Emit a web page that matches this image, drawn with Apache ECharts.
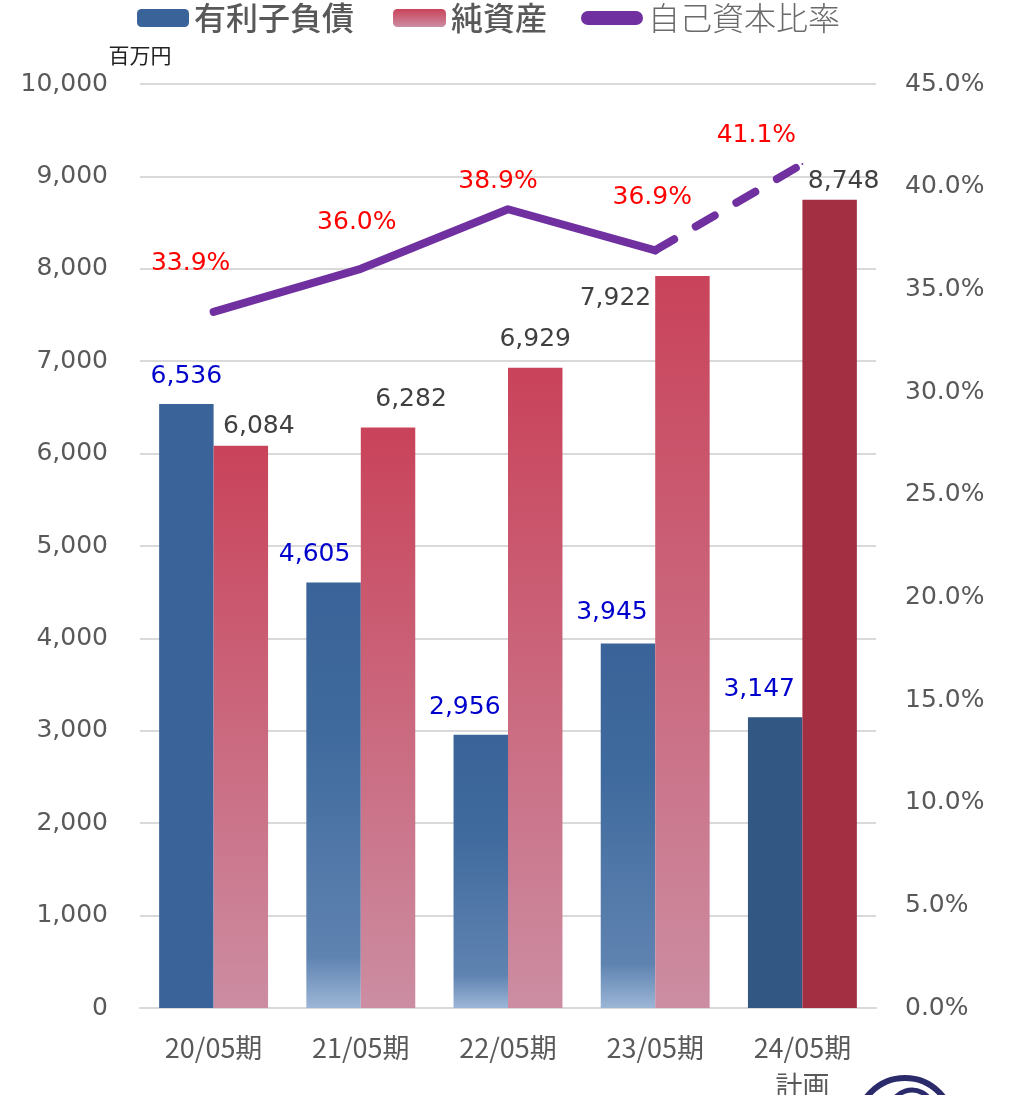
<!DOCTYPE html>
<html><head><meta charset="utf-8">
<script src="https://cdn.jsdelivr.net/npm/echarts@6/dist/echarts.min.js"></script>
<style>html,body{margin:0;padding:0;background:#fff;overflow:hidden}#c{width:1009px;height:1095px}</style>
</head><body><div id="c"></div>
<script>
const categories = ['20/05期', '21/05期', '22/05期', '23/05期', '24/05期\n計画'];
const debtValues = [6536, 4605, 2956, 3945, 3147];
const equityValues = [6084, 6282, 6929, 7922, 8748];
const ratioValues = [33.9, 36.0, 38.9, 36.9, 41.1];
const leftTicks = {min: 0, max: 10000, interval: 1000};
const rightTicks = {min: 0, max: 45, interval: 5};

const NUM_FONT = 'DejaVu Sans';
const CJK_FONT = 'Noto Sans CJK JP';

const blueGrad = new echarts.graphic.LinearGradient(0, 0, 0, 1, [
  {offset: 0, color: '#3A6499'}, {offset: 0.35, color: '#3F6A9D'},
  {offset: 0.88, color: '#5F83B1'}, {offset: 1, color: '#9CB6D6'}]);
const redGrad = new echarts.graphic.LinearGradient(0, 0, 0, 1, [
  {offset: 0, color: '#C9435A'}, {offset: 1, color: '#CC8DA2'}]);

// label offsets (style only)
const debtOff = [[0, -10], [-19, -10], [-16, -10], [-16, -13], [-16, -10]];
const eqOff = [[18, -2], [23, -11], [0, -11], [-67, 40], [14, -1]];
const ratioOff = [[-23, -30], [-4, -28], [-10, -9], [-3, -34], [-46, -10]];

const debtData = debtValues.map((v, i) => ({
  value: v,
  itemStyle: {color: i === 0 ? '#3A6499' : (i === 4 ? '#325782' : blueGrad)},
  label: {offset: debtOff[i]}
}));
const eqData = equityValues.map((v, i) => ({
  value: v,
  itemStyle: {color: i === 4 ? '#A22F42' : redGrad},
  label: {offset: eqOff[i], color: '#404040'}
}));
const solidLine = ratioValues.map((v, i) => i < 4 ? {value: v, label: {offset: ratioOff[i]}} : '-');
const dashLine = ratioValues.map((v, i) => i >= 3 ? {value: v, label: {show: i === 4, offset: ratioOff[i]}} : '-');

const chart = echarts.init(document.getElementById('c'));
const legendText = {fontFamily: CJK_FONT, fontSize: 32, color: '#595959'};
chart.setOption({
  animation: false,
  legend: [
    {data: [{name: '有利子負債', itemStyle: {color: '#3A6499'}}], left: 137, top: 2, itemWidth: 52, itemHeight: 18, textStyle: Object.assign({}, legendText, {fontWeight: 500}), padding: 0, selectedMode: false},
    {data: [{name: '純資産', itemStyle: {color: new echarts.graphic.LinearGradient(0, 0, 0, 1, [{offset: 0, color: '#C9435A'}, {offset: 1, color: '#CC8DA2'}])}}], left: 393, top: 2, itemWidth: 53, itemHeight: 18, textStyle: Object.assign({}, legendText, {fontWeight: 500}), padding: 0, selectedMode: false},
    {data: [{name: '自己資本比率', icon: 'path://M7,0 L55,0 A7,7 0 0 1 55,14 L7,14 A7,7 0 0 1 7,0 Z', itemStyle: {color: '#7030A0'}}], left: 581, top: 2, itemWidth: 62, itemHeight: 14, textStyle: Object.assign({}, legendText, {fontWeight: 300, color: '#6a6a6a'}), padding: 0, selectedMode: false}
  ],
  grid: {left: 140, right: 133, top: 84, bottom: 87, containLabel: false, outerBoundsMode: 'none'},
  xAxis: {
    type: 'category', data: categories,
    axisLine: {lineStyle: {color: '#D9D9D9', width: 2}},
    axisTick: {show: false},
    axisLabel: {fontFamily: CJK_FONT, fontSize: 27, color: '#595959', margin: 21, lineHeight: 38}
  },
  yAxis: [
    {type: 'value', min: leftTicks.min, max: leftTicks.max, interval: leftTicks.interval,
     name: '百万円', nameLocation: 'end', nameGap: 18,
     nameTextStyle: {fontFamily: CJK_FONT, fontSize: 21, color: '#222', align: 'center'},
     axisLine: {show: false}, axisTick: {show: false},
     splitLine: {lineStyle: {color: '#D9D9D9', width: 2}},
     axisLabel: {fontFamily: NUM_FONT, fontSize: 25, color: '#595959', margin: 32,
       formatter: v => v.toLocaleString('en-US')}},
    {type: 'value', min: rightTicks.min, max: rightTicks.max, interval: rightTicks.interval,
     axisLine: {show: false}, axisTick: {show: false}, splitLine: {show: false},
     axisLabel: {fontFamily: NUM_FONT, fontSize: 25, color: '#595959', margin: 29,
       formatter: v => v.toFixed(1) + '%'}}
  ],
  series: [
    {name: '有利子負債', type: 'bar', data: debtData, barGap: '0%', barCategoryGap: '26%',
     label: {show: true, position: 'top', distance: 5, fontFamily: NUM_FONT, fontSize: 25, color: '#0000CC',
       formatter: p => p.value.toLocaleString('en-US')}},
    {name: '純資産', type: 'bar', data: eqData, barGap: '0%', barCategoryGap: '26%',
     label: {show: true, position: 'top', distance: 5, fontFamily: NUM_FONT, fontSize: 25, color: '#404040',
       formatter: p => p.value.toLocaleString('en-US')}},
    {name: '自己資本比率', type: 'line', yAxisIndex: 1, data: solidLine, symbol: 'circle', symbolSize: 2, showSymbol: true,
     lineStyle: {color: '#7030A0', width: 8, cap: 'round', join: 'round'},
     itemStyle: {color: '#7030A0'}, z: 5,
     label: {show: true, position: 'top', distance: 5, fontFamily: NUM_FONT, fontSize: 25, color: '#FF0000',
       formatter: p => p.value.toFixed(1) + '%'}},
    {name: '自己資本比率', type: 'line', yAxisIndex: 1, data: dashLine, symbol: 'circle', symbolSize: 2, showSymbol: true,
     lineStyle: {color: '#7030A0', width: 8, type: [22, 25], cap: 'round', join: 'round'},
     itemStyle: {color: '#7030A0'}, z: 5,
     label: {show: true, position: 'top', distance: 5, fontFamily: NUM_FONT, fontSize: 25, color: '#FF0000',
       formatter: p => p.value.toFixed(1) + '%'}}
  ],
  graphic: [
    {type: 'circle', shape: {cx: 905, cy: 1126, r: 48}, style: {fill: 'none', stroke: '#2B2A6B', lineWidth: 6}, silent: true},
    {type: 'arc', shape: {cx: 912, cy: 1112, r: 22, startAngle: Math.PI * 1.15, endAngle: Math.PI * 1.75}, style: {fill: 'none', stroke: '#2B2A6B', lineWidth: 5}, silent: true}
  ]
});
</script></body></html>
